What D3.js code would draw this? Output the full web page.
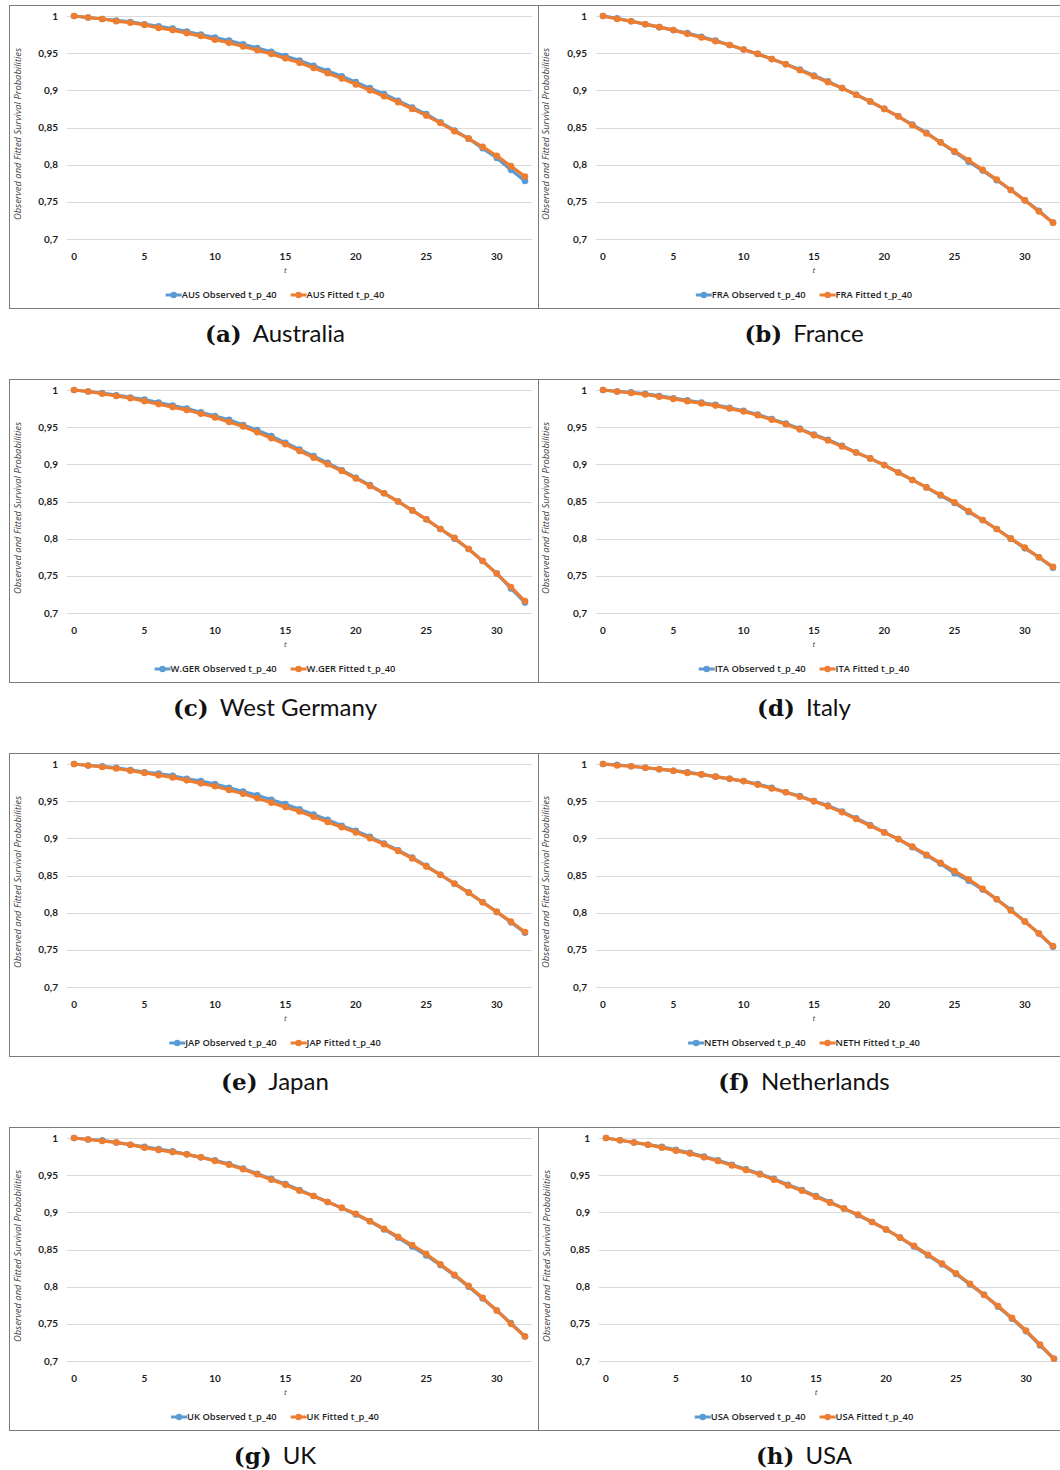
<!DOCTYPE html>
<html>
<head>
<meta charset="utf-8">
<script src="https://cdn.jsdelivr.net/npm/d3@7"></script>
<style>
  body { margin: 0; background: #fff; }
  svg { display: block; }
</style>
</head>
<body>
<svg id="svg" width="1060" height="1470"></svg>
<script>
// t = years ahead, survival probabilities t_p_40
const tYears = [0,1,2,3,4,5,6,7,8,9,10,11,12,13,14,15,16,17,18,19,20,21,22,23,24,25,26,27,28,29,30,31,32]
const yTicks = [0.7, 0.75, 0.8, 0.85, 0.9, 0.95, 1]
const xTicks = [0, 5, 10, 15, 20, 25, 30]

const AUS_obs = [1.000,0.998,0.996,0.994,0.992,0.989,0.986,0.983,0.979,0.975,0.971,0.967,0.962,0.957,0.952,0.946,0.940,0.933,0.926,0.919,0.911,0.903,0.895,0.886,0.877,0.868,0.857,0.846,0.835,0.822,0.809,0.793,0.778]
const AUS_fit = [1.000,0.998,0.996,0.993,0.991,0.988,0.984,0.981,0.977,0.973,0.968,0.964,0.959,0.954,0.949,0.943,0.937,0.930,0.923,0.916,0.908,0.900,0.892,0.884,0.875,0.866,0.856,0.845,0.835,0.824,0.812,0.798,0.784]
const FRA_obs = [1.000,0.997,0.993,0.989,0.985,0.981,0.977,0.972,0.967,0.961,0.955,0.949,0.942,0.935,0.928,0.920,0.912,0.903,0.894,0.885,0.875,0.865,0.854,0.843,0.830,0.817,0.804,0.792,0.779,0.766,0.752,0.738,0.722]
const FRA_fit = [1.000,0.996,0.993,0.989,0.985,0.981,0.976,0.971,0.966,0.961,0.955,0.949,0.942,0.935,0.927,0.919,0.911,0.903,0.894,0.885,0.875,0.865,0.853,0.842,0.830,0.818,0.806,0.793,0.780,0.766,0.752,0.737,0.722]
const WGER_obs = [1.000,0.998,0.996,0.993,0.990,0.987,0.983,0.979,0.975,0.970,0.965,0.960,0.953,0.946,0.938,0.929,0.920,0.911,0.902,0.892,0.882,0.872,0.861,0.850,0.838,0.826,0.813,0.800,0.786,0.770,0.753,0.733,0.714]
const WGER_fit = [1.000,0.998,0.995,0.992,0.989,0.985,0.981,0.977,0.973,0.968,0.963,0.957,0.951,0.943,0.935,0.927,0.918,0.909,0.900,0.891,0.881,0.871,0.861,0.850,0.838,0.826,0.813,0.801,0.786,0.770,0.753,0.735,0.716]
const ITA_obs = [1.000,0.998,0.997,0.995,0.992,0.989,0.986,0.983,0.980,0.976,0.972,0.967,0.961,0.955,0.948,0.940,0.933,0.925,0.916,0.908,0.899,0.889,0.879,0.869,0.858,0.848,0.836,0.825,0.813,0.800,0.787,0.775,0.761]
const ITA_fit = [1.000,0.998,0.996,0.994,0.991,0.988,0.985,0.982,0.979,0.975,0.971,0.966,0.960,0.954,0.947,0.939,0.932,0.924,0.916,0.908,0.899,0.889,0.879,0.869,0.859,0.849,0.837,0.825,0.813,0.800,0.788,0.775,0.762]
const JAP_obs = [1.000,0.998,0.997,0.995,0.992,0.989,0.987,0.984,0.980,0.977,0.973,0.968,0.963,0.958,0.952,0.946,0.939,0.932,0.925,0.917,0.910,0.902,0.893,0.884,0.874,0.863,0.851,0.839,0.827,0.814,0.801,0.787,0.773]
const JAP_fit = [1.000,0.998,0.996,0.994,0.991,0.988,0.985,0.982,0.978,0.974,0.970,0.965,0.960,0.954,0.948,0.942,0.936,0.929,0.922,0.915,0.908,0.900,0.892,0.883,0.873,0.862,0.851,0.839,0.827,0.814,0.801,0.788,0.774]
const NETH_obs = [1.000,0.999,0.997,0.995,0.993,0.991,0.989,0.986,0.983,0.980,0.977,0.973,0.968,0.962,0.957,0.950,0.944,0.936,0.927,0.918,0.908,0.899,0.888,0.877,0.866,0.853,0.843,0.831,0.818,0.804,0.788,0.772,0.754]
const NETH_fit = [1.000,0.998,0.997,0.995,0.993,0.991,0.988,0.986,0.983,0.980,0.977,0.972,0.967,0.962,0.956,0.950,0.943,0.935,0.926,0.917,0.908,0.899,0.889,0.878,0.867,0.856,0.845,0.832,0.818,0.803,0.788,0.772,0.755]
const UK_obs = [1.000,0.998,0.997,0.994,0.991,0.988,0.985,0.982,0.978,0.974,0.970,0.965,0.959,0.952,0.945,0.938,0.930,0.922,0.914,0.906,0.897,0.888,0.877,0.866,0.854,0.842,0.829,0.815,0.800,0.784,0.768,0.751,0.733]
const UK_fit = [1.000,0.998,0.996,0.994,0.991,0.987,0.984,0.981,0.978,0.974,0.969,0.964,0.958,0.951,0.944,0.937,0.929,0.922,0.914,0.906,0.898,0.888,0.878,0.867,0.856,0.844,0.830,0.816,0.801,0.785,0.768,0.750,0.733]
const USA_obs = [1.000,0.997,0.994,0.991,0.988,0.984,0.980,0.975,0.970,0.964,0.958,0.952,0.945,0.937,0.930,0.922,0.914,0.905,0.896,0.887,0.877,0.866,0.854,0.842,0.830,0.817,0.803,0.789,0.773,0.757,0.740,0.721,0.703]
const USA_fit = [1.000,0.997,0.994,0.991,0.987,0.983,0.979,0.974,0.969,0.963,0.957,0.951,0.944,0.936,0.929,0.921,0.913,0.905,0.897,0.887,0.877,0.866,0.855,0.843,0.831,0.818,0.804,0.789,0.774,0.758,0.741,0.722,0.703]

const codes = ["AUS", "FRA", "W.GER", "ITA", "JAP", "NETH", "UK", "USA"]
const letters = ["a", "b", "c", "d", "e", "f", "g", "h"]
const names = ["Australia", "France", "West Germany", "Italy", "Japan", "Netherlands", "UK", "USA"]
const observed = [AUS_obs, FRA_obs, WGER_obs, ITA_obs, JAP_obs, NETH_obs, UK_obs, USA_obs]
const fitted = [AUS_fit, FRA_fit, WGER_fit, ITA_fit, JAP_fit, NETH_fit, UK_fit, USA_fit]

const blue = "#5b9bd5", orange = "#ed7d31"
const font = "Lato, 'Open Sans', sans-serif"
const wide = "'Open Sans', Lato, sans-serif"
const rowStep = 374

const svg = d3.select("#svg")

codes.forEach((code, i) => {
  const col = i % 2, row = Math.floor(i / 2)
  const top = 5 + row * rowStep
  const boxL = col === 0 ? 9 : 538
  const boxR = col === 0 ? 538 : 1062
  // plot area (category axis: points centred in -0.5..32.5)
  const plotL = col === 0 ? 67 : (i === 7 ? 599 : 596)
  const plotR = col === 0 ? 532 : (i === 7 ? 1061 : 1060)

  const x = d3.scaleLinear().domain([-0.5, 32.5]).range([plotL, plotR])
  const y = d3.scaleLinear().domain([0.7, 1]).range([top + 234, top + 11])

  const g = svg.append("g")

  g.append("rect")
    .attr("x", boxL + 0.5).attr("y", top + 0.5)
    .attr("width", boxR - boxL).attr("height", 303)
    .attr("fill", "none").attr("stroke", "#7a7a7a").attr("stroke-width", 1)

  // gridlines
  g.append("g").selectAll("line").data(yTicks).join("line")
    .attr("x1", plotL).attr("x2", plotR)
    .attr("y1", d => Math.round(y(d)) + 0.5).attr("y2", d => Math.round(y(d)) + 0.5)
    .attr("stroke", "#d9d9d9").attr("stroke-width", 1)

  // y tick labels
  g.append("g").selectAll("text").data(yTicks).join("text")
    .attr("x", plotL - 9).attr("y", d => y(d) + 3.5)
    .attr("text-anchor", "end")
    .style("font", `bold 10px ${font}`).attr("fill", "#1e1e1e")
    .text(d => d3.format(".2~f")(d).replace(".", ","))

  // x tick labels
  g.append("g").selectAll("text").data(xTicks).join("text")
    .attr("x", d => x(d)).attr("y", top + 255)
    .attr("text-anchor", "middle")
    .style("font", `bold 10px ${font}`).attr("fill", "#1e1e1e")
    .text(d => d)

  g.append("text")
    .attr("x", x(15)).attr("y", top + 268)
    .attr("text-anchor", "middle")
    .style("font", `italic 8px ${wide}`).attr("fill", "#404040")
    .text("t")

  // y axis title
  const yc = top + 129
  const tx = col === 0 ? 21 : (i === 7 ? 550 : 549)
  g.append("text")
    .attr("transform", `translate(${tx},${yc}) rotate(-90)`)
    .attr("text-anchor", "middle")
    .style("font", `italic 9.4px ${wide}`).attr("fill", "#404040")
    .text("Observed and Fitted Survival Probabilities")

  const line = d3.line().x((d, k) => x(tYears[k])).y(d => y(d))

  const series = [
    {vals: observed[i], color: blue},
    {vals: fitted[i], color: orange}
  ]
  series.forEach(s => {
    g.append("path")
      .attr("d", line(s.vals))
      .attr("fill", "none").attr("stroke", s.color)
      .attr("stroke-width", 3.2).attr("stroke-linejoin", "round")
    g.append("g").selectAll("circle").data(s.vals).join("circle")
      .attr("cx", (d, k) => x(tYears[k])).attr("cy", d => y(d))
      .attr("r", 3.3).attr("fill", s.color)
  })

  // legend
  const centre = col === 0 ? 275 : 804
  const legendY = top + 290
  const labels = [`${code} Observed t_p_40`, `${code} Fitted t_p_40`]
  const lg = g.append("g")
  let cursor = 0
  labels.forEach((lab, k) => {
    const it = lg.append("g")
    it.append("line").attr("x1", 0).attr("x2", 16).attr("y1", 0).attr("y2", 0)
      .attr("stroke", k === 0 ? blue : orange).attr("stroke-width", 3)
    it.append("circle").attr("cx", 8).attr("cy", 0).attr("r", 3.2).attr("fill", k === 0 ? blue : orange)
    const txt = it.append("text").attr("x", 16).attr("y", 3.3)
      .style("font", `600 9.4px ${wide}`).attr("fill", "#1e1e1e").text(lab)
    const w = 16 + txt.node().getComputedTextLength()
    it.attr("transform", `translate(${cursor},${legendY})`)
    cursor += w + 14
  })
  const total = cursor - 14
  lg.attr("transform", `translate(${centre - total / 2},0)`)

  // caption
  const cap = svg.append("text")
    .attr("x", centre).attr("y", top + 337)
    .attr("text-anchor", "middle")
    .attr("fill", "#111")
  cap.append("tspan")
    .style("font", "bold 23px 'DejaVu Serif', serif")
    .text(`(${letters[i]})`)
  cap.append("tspan")
    .attr("dx", 11)
    .style("font", `24px ${font}`)
    .text(names[i])
})
</script>
</body>
</html>
